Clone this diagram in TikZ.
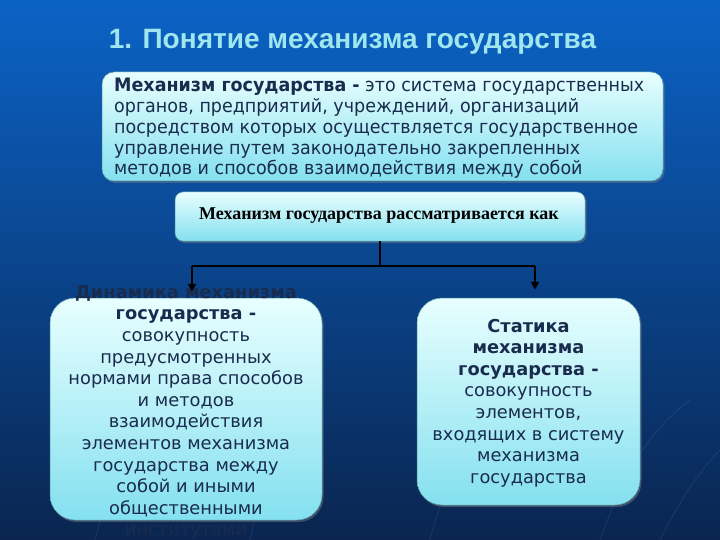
\documentclass[tikz,border=0pt]{standalone}
\usepackage{fontspec}
\usetikzlibrary{arrows.meta,shadows}
\newfontfamily\verd{DejaVu Sans}
\newfontfamily\condf[FakeStretch=0.946]{DejaVu Sans}
\newfontfamily\arialf{Liberation Sans}
\newfontfamily\timesf{Liberation Serif}
\definecolor{bgtop}{HTML}{0B63C6}
\definecolor{bgmid}{HTML}{0B4A98}
\definecolor{bgbot}{HTML}{0A2550}
\definecolor{boxlight}{HTML}{E8FFFF}
\definecolor{boxdark}{HTML}{84E0EF}
\definecolor{txt}{HTML}{1A2C4E}
\definecolor{titlec}{HTML}{9FE6EE}
\tikzset{
  panel/.style={rounded corners=#1, top color=boxlight, bottom color=boxdark,
    draw=boxdark!70!black, line width=0.5pt,
    drop shadow={shadow xshift=1.5pt, shadow yshift=-2pt, opacity=0.45}},
  bodytext/.style={text=txt, font=\verd\fontsize{17.8}{21.6}\selectfont, align=center, inner sep=0pt},
  conn/.style={line width=1.8pt, black},
  arr/.style={conn, -{Triangle[length=8pt,width=8pt]}},
  deco/.style={white, opacity=0.08, line width=0.8pt}
}
\begin{document}
\begin{tikzpicture}[x=1pt,y=-1pt]
\useasboundingbox (0,0) rectangle (720,540);
\shade[top color=bgtop, middle color=bgmid, bottom color=bgbot] (0,0) rectangle (720,540);
% faint background lines
\draw[deco] (95,540) .. controls (110,480) and (130,420) .. (150,380);
\draw[deco] (250,540) .. controls (265,470) and (280,420) .. (300,380);
\draw[deco] (430,540) .. controls (445,480) and (470,430) .. (500,400);
\draw[deco] (600,540) .. controls (625,470) and (650,430) .. (690,400);
\draw[deco] (660,540) .. controls (680,500) and (700,470) .. (720,450);
% title
\node[font=\arialf\bfseries\fontsize{28}{32}\selectfont, text=titlec] (title) at (352.5,42) {1. Понятие механизма государства};
% definition box
\node[panel=12pt, minimum width=561pt, minimum height=109pt, inner sep=0pt] (b1) at (382.5,126.5) {};
\node[text=txt, font=\condf\fontsize{18.5}{20.7}\selectfont, align=left, anchor=west, inner sep=0pt] (b1t) at (114,128.5)
 {\textbf{Механизм государства -} это система государственных\\
  органов, предприятий, учреждений, организаций\\
  посредством которых осуществляется государственное\\
  управление путем законодательно закрепленных\\
  методов и способов взаимодействия между собой};
% middle box
\node[panel=8pt, minimum width=410pt, minimum height=49pt, inner sep=0pt] (b2) at (380,216.5) {};
\node[text=black, font=\timesf\bfseries\fontsize{18}{20}\selectfont, inner sep=0pt] (b2t) at (379,216)
 {Механизм государства рассматривается как};
% lower boxes
\node[panel=25pt, minimum width=272pt, minimum height=222pt, inner sep=0pt] (lbox) at (186,409) {};
\node[panel=25pt, minimum width=223pt, minimum height=207pt, inner sep=0pt] (rbox) at (528.5,401.5) {};
\node[bodytext] (lt) at (186,412.5)
 {\textbf{Динамика механизма}\\
  \textbf{государства -}\\
  совокупность\\
  предусмотренных\\
  нормами права способов\\
  и методов\\
  взаимодействия\\
  элементов механизма\\
  государства между\\
  собой и иными\\
  общественными\\
  институтами};
\node[bodytext] (rt) at (528.5,403)
 {\textbf{Статика}\\
  \textbf{механизма}\\
  \textbf{государства -}\\
  совокупность\\
  элементов,\\
  входящих в систему\\
  механизма\\
  государства};
% connectors
\coordinate (hl) at (192,266);
\coordinate (hr) at (535,266);
\draw[conn] (b2.south) -- (b2.south |- hl);
\draw[conn] (hl) -- (hr);
\draw[arr] (hl) -- ([yshift=6pt]hl |- lbox.north);
\draw[arr] (hr) -- ([yshift=8pt]hr |- rbox.north);
\end{tikzpicture}
\end{document}
